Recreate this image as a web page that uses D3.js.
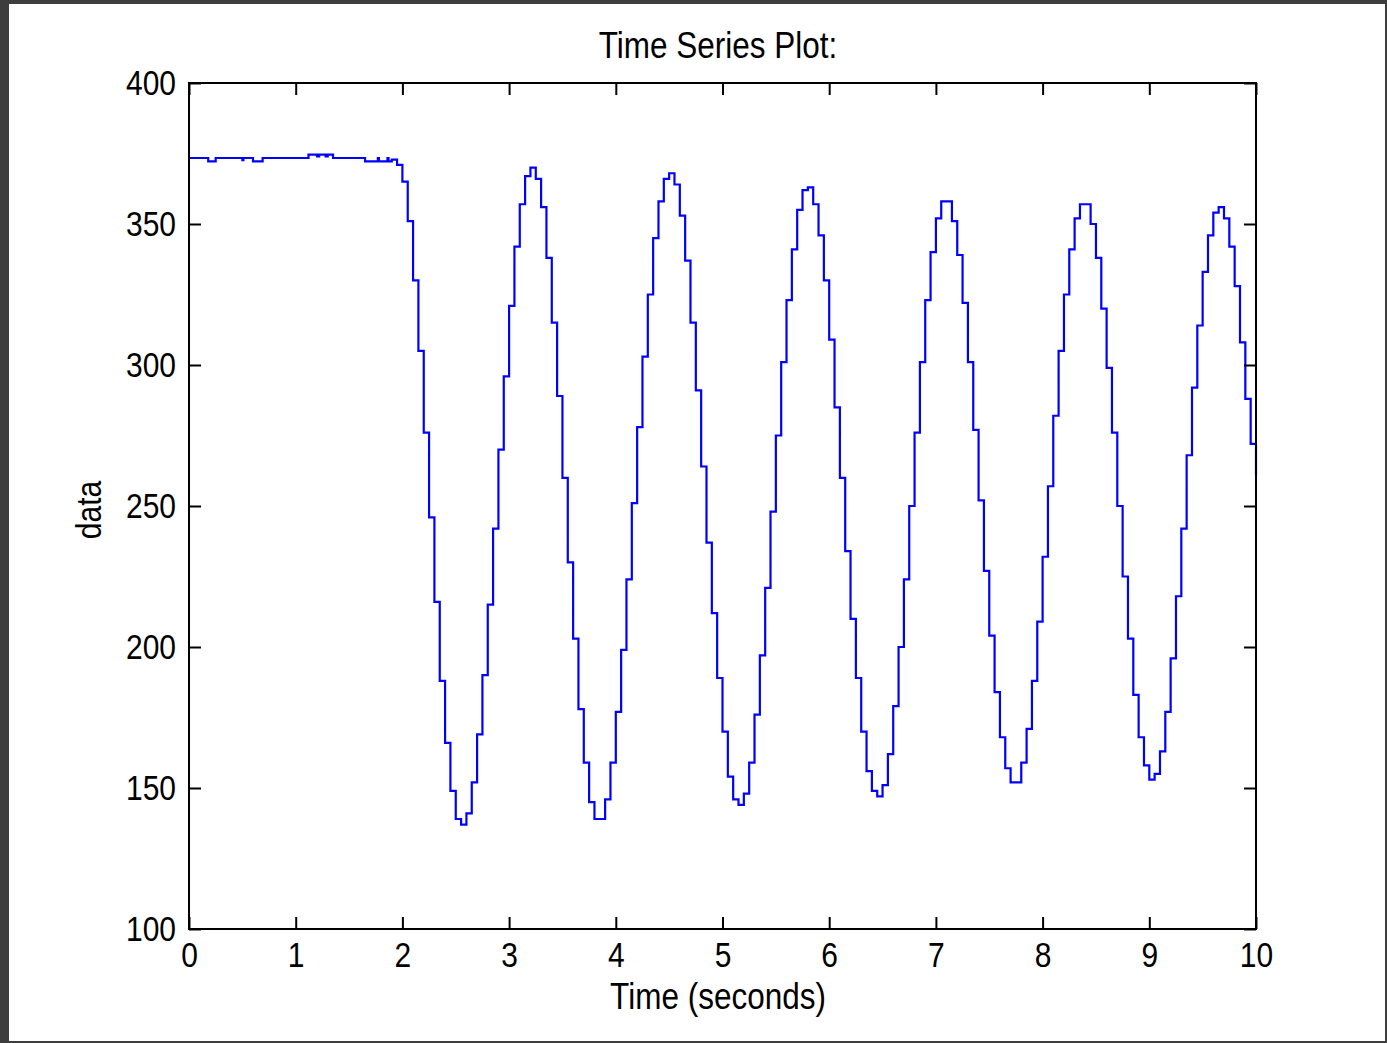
<!DOCTYPE html>
<html>
<head>
<meta charset="utf-8">
<script src="https://cdn.jsdelivr.net/npm/d3@7"></script>
<style>
  html, body { margin: 0; padding: 0; background: #3d3d3d; }
  svg { display: block; }
  text { font-family: "Liberation Sans", Arial, sans-serif; fill: #000; }
</style>
</head>
<body>
<svg id="chart"></svg>
<script>
// flat part before the disturbance (time, value)
const flatTimes  = [0, 0.18, 0.25, 0.50, 0.51, 0.60, 0.69, 1.12, 1.20, 1.22, 1.28, 1.30, 1.35, 1.65, 1.77, 1.78, 1.86, 1.87, 1.90];
const flatValues = [373.4, 372.2, 373.4, 372.6, 373.4, 372.2, 373.4, 374.6, 374.0, 374.6, 374.0, 374.6, 373.4, 372.2, 373.4, 372.2, 373.4, 372.2, 372.8];

// oscillation, sampled every 0.05 s from 1.95 s (one row per half cycle)
const oscStart = 1.95, oscStep = 0.05;
const oscValues = [
  371, 365, 351, 330, 305, 276, 246, 216, 188, 166, 149, 139,
  137, 141, 152, 169, 190, 215, 242, 270, 296, 321, 342, 357, 367, 370,
  366, 356, 338, 315, 289, 260, 230, 203, 178, 159, 145, 139,
  139, 146, 159, 177, 199, 224, 251, 278, 303, 325, 345, 358, 366, 368,
  364, 353, 337, 315, 291, 264, 237, 212, 189, 170, 154, 146,
  144, 148, 159, 176, 197, 221, 248, 275, 301, 323, 341, 355, 362, 363,
  357, 346, 330, 309, 285, 260, 234, 210, 189, 170, 156, 149,
  147, 151, 162, 179, 200, 224, 250, 276, 301, 323, 340, 352, 358, 358,
  351, 339, 322, 301, 277, 252, 227, 204, 184, 168, 157, 152,
  152, 159, 171, 188, 209, 232, 257, 282, 305, 325, 341, 352, 357, 357,
  350, 338, 320, 299, 276, 250, 225, 203, 183, 168, 158, 153,
  155, 163, 177, 196, 218, 242, 268, 292, 314, 333, 346, 354, 356, 352,
  342, 328, 308, 288, 272, 261
];

const xTicks = [0, 1, 2, 3, 4, 5, 6, 7, 8, 9, 10];
const yTicks = [100, 150, 200, 250, 300, 350, 400];

const W = 1387, H = 1043;
const PL = 189, PR = 1256, PT = 83, PB = 929;
const TICK = 12;
const STRETCH = 1.15; // the original font is taller than it is wide

const points = flatTimes.map((t, i) => ({ t, v: flatValues[i] }))
  .concat(oscValues.map((v, i) => ({ t: +(oscStart + i * oscStep).toFixed(2), v })));

const svg = d3.select("#chart").attr("width", W).attr("height", H);

// frame
svg.append("rect").attr("width", W).attr("height", H).attr("fill", "#3d3d3d");
svg.append("rect").attr("x", 9).attr("y", 4).attr("width", 1376).attr("height", 1037).attr("fill", "#fff");

const x = d3.scaleLinear().domain([0, 10]).range([PL, PR]);
const y = d3.scaleLinear().domain([100, 400]).range([PB, PT]);

// data line
svg.append("path")
  .datum(points)
  .attr("fill", "none")
  .attr("stroke", "#0000ff")
  .attr("stroke-width", 2.2)
  .attr("d", d3.line().x(d => x(d.t)).y(d => y(d.v)).curve(d3.curveStepAfter));

// axes: ticks point inward on all four sides
const gx = svg.append("g").attr("transform", `translate(0,${PB})`)
  .call(d3.axisBottom(x).tickValues(xTicks).tickSizeInner(-TICK).tickSizeOuter(0).tickPadding(14));
const gxTop = svg.append("g").attr("transform", `translate(0,${PT})`)
  .call(d3.axisTop(x).tickValues(xTicks).tickSizeInner(-TICK).tickSizeOuter(0).tickFormat(""));
const gy = svg.append("g").attr("transform", `translate(${PL},0)`)
  .call(d3.axisLeft(y).tickValues(yTicks).tickSizeInner(-TICK).tickSizeOuter(0).tickPadding(13));
const gyRight = svg.append("g").attr("transform", `translate(${PR},0)`)
  .call(d3.axisRight(y).tickValues(yTicks).tickSizeInner(-TICK).tickSizeOuter(0).tickFormat(""));

for (const g of [gx, gxTop, gy, gyRight]) {
  g.select(".domain").remove();
  g.selectAll(".tick line").attr("stroke", "#000").attr("stroke-width", 2);
  g.selectAll("text")
    .style("font-size", "30px").attr("fill", "#000")
    .attr("y", function() { return (+d3.select(this).attr("y") || 0) / STRETCH; })
    .attr("transform", `scale(1,${STRETCH})`);
}

// box
svg.append("rect")
  .attr("x", PL).attr("y", PT).attr("width", PR - PL).attr("height", PB - PT)
  .attr("fill", "none").attr("stroke", "#000").attr("stroke-width", 2);

// labels
svg.append("text").attr("transform", `translate(718,58) scale(1,${STRETCH})`).attr("text-anchor", "middle")
  .style("font-size", "31.5px").text("Time Series Plot:");
svg.append("text").attr("transform", `translate(718,1009) scale(1,${STRETCH})`).attr("text-anchor", "middle")
  .style("font-size", "31.5px").text("Time (seconds)");
svg.append("text").attr("transform", `translate(101,510) rotate(-90) scale(1,${STRETCH})`).attr("text-anchor", "middle")
  .style("font-size", "30px").text("data");
</script>
</body>
</html>
